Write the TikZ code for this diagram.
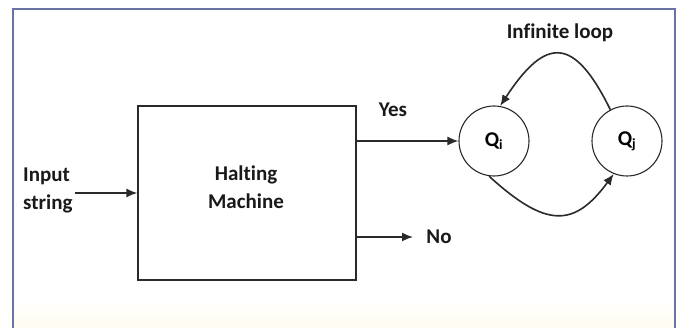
\documentclass[tikz,border=0pt]{standalone}
\usepackage{fontspec}
\setmainfont[Ligatures=NoCommon]{Carlito}
\usetikzlibrary{arrows.meta}
\definecolor{framec}{HTML}{6874A4}
\definecolor{creamc}{HTML}{FFFDF0}
\definecolor{linec}{HTML}{2A2A2A}
\begin{document}
\begin{tikzpicture}[x=1pt,y=-1pt,
  lbl/.style={font=\fontsize{21}{24}\selectfont\bfseries, text=black!90, inner sep=0pt},
  conn/.style={draw=linec, line width=1.6pt, -{Latex[length=11pt,width=9pt]}},
  state/.style={circle, draw=linec, line width=1.1pt, minimum size=70pt, inner sep=0pt, font=\fontsize{21}{24}\selectfont\bfseries}]
\useasboundingbox (0,0) rectangle (681,328);
\fill[white] (0,0) rectangle (681,328);
\shade[top color=white, bottom color=creamc] (13,300) rectangle (675,328);
\draw[framec, line width=1.6pt] (13,330) -- (13,9) -- (675,9) -- (675,330);
\node[draw=linec, line width=1.2pt, minimum width=218pt, minimum height=174pt, inner sep=0pt] (hm) at (247,193) {};
\node[lbl, align=center] (hmt) at (246,187) {Halting\\[4pt]Machine};
\node[lbl, align=left, anchor=west] (inp) at (23,190) {Input\\[4pt]string};
\coordinate (inpend) at (75,193);
\node[state] (qi) at (494,141) {Q\textsubscript{\fontsize{14}{14}\selectfont\bfseries i}};
\node[state] (qj) at (627,141) {Q\textsubscript{\fontsize{14}{14}\selectfont\bfseries j}};
\node[lbl] (yes) at (393,110) {Yes};
\node[lbl] (no) at (439,237) {No};
\node[lbl] (inf) at (560,33) {Infinite loop};
\draw[conn] (inpend) -- (hm.west |- inpend);
\draw[conn] (hm.east |- qi.west) -- (qi.west);
\coordinate (noend) at (413,237);
\draw[conn] (hm.east |- noend) -- (noend);
\draw[conn] (qj.118) .. controls (574,36) and (546,36) .. (qi.80);
\draw[conn] (qi.-98) .. controls (546,228) and (574,228) .. (qj.-112);
\end{tikzpicture}
\end{document}
